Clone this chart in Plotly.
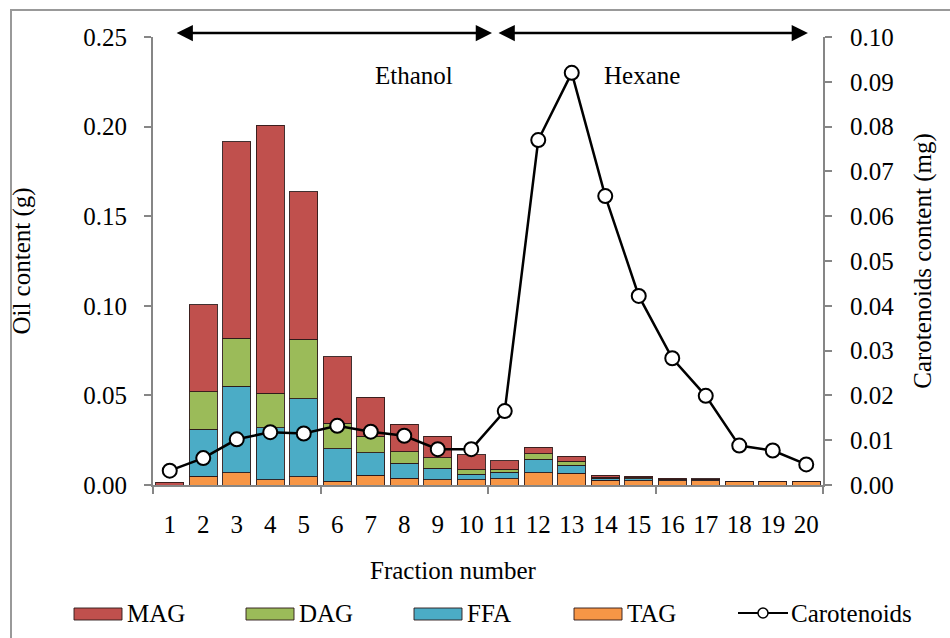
import plotly.graph_objects as go

fractions = list(range(1, 21))
tag = [0.0, 0.0050, 0.0067, 0.0030, 0.0046, 0.0020, 0.0054, 0.0037, 0.0028, 0.0030,
       0.0035, 0.0069, 0.0065, 0.0027, 0.0025, 0.0025, 0.0025, 0.0022, 0.0022, 0.0018]
ffa = [0.0, 0.0260, 0.0484, 0.0290, 0.0434, 0.0183, 0.0125, 0.0084, 0.0065, 0.0030,
       0.0036, 0.0074, 0.0045, 0.0010, 0.0010, 0.0005, 0.0006, 0.0, 0.0, 0.0]
dag = [0.0, 0.0210, 0.0268, 0.0193, 0.0333, 0.0143, 0.0093, 0.0065, 0.0058, 0.0025,
       0.0018, 0.0032, 0.0022, 0.0007, 0.0005, 0.0002, 0.0, 0.0, 0.0, 0.0]
mag = [0.0015, 0.0487, 0.1097, 0.1494, 0.0824, 0.0370, 0.0217, 0.0153, 0.0122, 0.0085,
       0.0047, 0.0037, 0.0028, 0.0010, 0.0008, 0.0005, 0.0004, 0.0, 0.0, 0.0]
carotenoids = [0.0032, 0.0060, 0.0102, 0.0118, 0.0115, 0.0132, 0.0119, 0.0110, 0.0080, 0.0080,
               0.0165, 0.0770, 0.0920, 0.0645, 0.0422, 0.0283, 0.0199, 0.0088, 0.0077, 0.0046]
left_ticks = [0.00, 0.05, 0.10, 0.15, 0.20, 0.25]
right_ticks = [0.00, 0.01, 0.02, 0.03, 0.04, 0.05, 0.06, 0.07, 0.08, 0.09, 0.10]
series_names = ["MAG", "DAG", "FFA", "TAG"]
series_colors = {"MAG": "#C0504D", "DAG": "#9BBB59", "FFA": "#4BACC6", "TAG": "#F79646"}
series_values = {"MAG": mag, "DAG": dag, "FFA": ffa, "TAG": tag}

FONT = "Liberation Serif"
FS = 25
W, H = 950, 638
L, R, T, B = 153, 127, 37, 153
PW, PH = W - L - R, H - T - B


def px(x):
    return (x - L) / PW


def py(y):
    return (H - B - y) / PH


edge = dict(color="rgba(45,25,25,0.9)", width=1)

fig = go.Figure()
for name in ["TAG", "FFA", "DAG", "MAG"]:
    fig.add_trace(go.Bar(x=fractions, y=series_values[name], name=name,
                         marker=dict(color=series_colors[name], line=edge)))

fig.add_trace(go.Scatter(x=fractions, y=carotenoids, name="Carotenoids", yaxis="y2",
                         mode="lines+markers",
                         line=dict(color="black", width=2.5),
                         marker=dict(symbol="circle", size=14, color="white",
                                     line=dict(color="black", width=2))))

axis_col = "#868686"
fig.update_layout(
    width=W, height=H,
    margin=dict(l=L, r=R, t=T, b=B, autoexpand=False),
    barmode="stack", bargap=0.17,
    plot_bgcolor="white", paper_bgcolor="white",
    font=dict(family=FONT, size=FS, color="black"),
    showlegend=False,
    xaxis=dict(range=[0.5, 20.5], tickvals=fractions, ticktext=[str(f) for f in fractions],
               ticks="", showline=True, linecolor=axis_col, linewidth=2, showgrid=False,
               zeroline=False, tickfont=dict(size=FS), automargin=False,
               ticklabelstandoff=16,
               minor=dict(tickvals=[0.5, 5.5, 10.5, 15.5, 20.5], ticks="outside",
                          ticklen=7, tickcolor=axis_col, tickwidth=2, showgrid=False)),
    yaxis=dict(range=[0, 0.25], tickvals=left_ticks, ticktext=[f"{v:.2f}" for v in left_ticks],
               ticks="outside", ticklen=7, tickcolor=axis_col, tickwidth=2,
               showline=True, linecolor=axis_col, linewidth=2, showgrid=False, zeroline=False,
               tickfont=dict(size=FS), automargin=False, ticklabelstandoff=12,
               title=dict(text="Oil content (g)", font=dict(size=FS), standoff=46)),
    yaxis2=dict(range=[0, 0.10], tickvals=right_ticks, ticktext=[f"{v:.2f}" for v in right_ticks],
                overlaying="y", side="right", ticks="outside", ticklen=7, tickcolor=axis_col,
                tickwidth=2, showline=True, linecolor=axis_col, linewidth=2, showgrid=False,
                zeroline=False, tickfont=dict(size=FS), automargin=False, ticklabelstandoff=13,
                title=dict(text="Carotenoids content (mg)", font=dict(size=FS), standoff=20)),
)

# x-axis title (offset left of plot centre, as in the original)
fig.add_annotation(x=px(453), y=py(570), xref="paper", yref="paper", text="Fraction number",
                   showarrow=False, xanchor="center", yanchor="middle", font=dict(size=FS))

# Solvent range arrows
for x0, x1 in [(1.16, 10.62), (10.77, 20.05)]:
    fig.add_annotation(x=x1, y=py(33), ax=x0, ay=py(33), xref="x", yref="y domain",
                       axref="x", ayref="y domain", text="", showarrow=True,
                       arrowhead=2, arrowside="end+start", arrowsize=1.3,
                       arrowwidth=2.5, arrowcolor="black")
fig.add_annotation(x=px(414), y=py(75), xref="paper", yref="paper", text="Ethanol",
                   showarrow=False, xanchor="center", yanchor="middle", font=dict(size=FS))
fig.add_annotation(x=px(642), y=py(75), xref="paper", yref="paper", text="Hexane",
                   showarrow=False, xanchor="center", yanchor="middle", font=dict(size=FS))

# outer frame
fig.add_shape(type="rect", xref="paper", yref="paper", x0=px(11), x1=px(960),
              y0=py(650), y1=py(10), line=dict(color="#999999", width=2), layer="below")

# legend (drawn)
legend_x = {"MAG": 74, "DAG": 246, "FFA": 414, "TAG": 574}
ly0, ly1, lyc = 608, 620, 613
for name in series_names:
    x0 = legend_x[name]
    fig.add_shape(type="rect", xref="paper", yref="paper", x0=px(x0), x1=px(x0 + 48),
                  y0=py(ly1), y1=py(ly0), fillcolor=series_colors[name],
                  line=dict(color="rgba(45,25,25,0.9)", width=1))
    fig.add_annotation(x=px(x0 + 51), y=py(lyc), xref="paper", yref="paper", text=name,
                       showarrow=False, xanchor="left", yanchor="middle", font=dict(size=FS))
fig.add_shape(type="line", xref="paper", yref="paper", x0=px(738), x1=px(788),
              y0=py(lyc), y1=py(lyc), line=dict(color="black", width=2))
fig.add_shape(type="circle", xref="paper", yref="paper", x0=px(758), x1=px(768),
              y0=py(618), y1=py(608), fillcolor="white", line=dict(color="black", width=1.5))
fig.add_annotation(x=px(789), y=py(lyc), xref="paper", yref="paper", text="Carotenoids",
                   showarrow=False, xanchor="left", yanchor="middle", font=dict(size=FS))

fig.write_html("out.html")
